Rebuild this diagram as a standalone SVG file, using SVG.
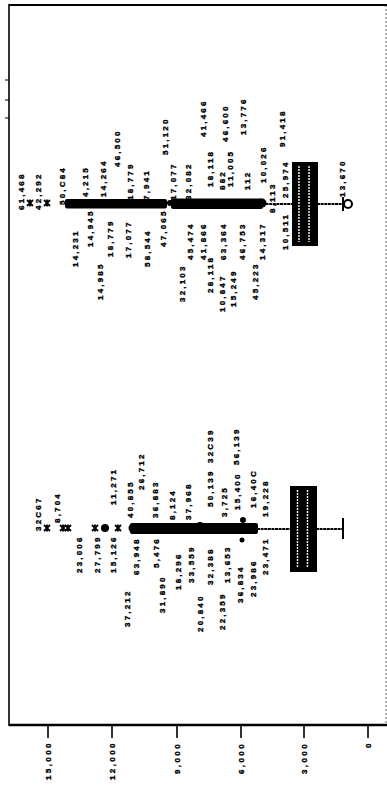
<svg xmlns="http://www.w3.org/2000/svg" width="387" height="787" viewBox="0 0 387 787">
<style>
.t{font-family:"Liberation Sans",Arial,sans-serif;font-weight:bold;font-size:8px;letter-spacing:2.2px;fill:#000;stroke:#000;stroke-width:0.35}
.ax{font-family:"Liberation Sans",Arial,sans-serif;font-weight:bold;font-size:8px;letter-spacing:2.4px;fill:#000;stroke:#000;stroke-width:0.35}
.frame{stroke:#000;fill:none}
.wh{stroke:#000;stroke-width:2;fill:none;stroke-dasharray:3 0.6}
.dense{fill:#000}
.box{fill:#000;stroke:#000;stroke-width:2}
.stripe{stroke:#fff;stroke-width:1.4;stroke-dasharray:2 1}
.mk{fill:#000}
</style>
<defs>
<path id="ast" d="M-3,-3 L3,3 M-3,3 L3,-3 M0,-3.5 V3.5" stroke="#000" stroke-width="1.8" fill="none"/>
</defs>
<rect width="387" height="787" fill="#fff"/>
<g id="frame">
<line class="frame" x1="9" y1="4" x2="9" y2="726" stroke-width="1.6"/>
<line class="frame" x1="9" y1="5" x2="387" y2="5" stroke-width="2"/>
<line class="frame" x1="9" y1="725" x2="387" y2="725" stroke-width="2.4"/>
<line class="frame" x1="386" y1="5" x2="386" y2="725" stroke-width="0.6" stroke="#bbb" stroke-dasharray="2 2"/>
<path class="frame" d="M5,80H9M5,100H9M5,118H9" stroke-width="1"/>
</g>
<g id="axis">
<path class="frame" stroke-width="1.6" d="M48,725V738M112,725V738M177,725V738M241,725V738M304,725V738M368,725V738"/>
<text class="ax" transform="translate(51,780) rotate(-90)">15,000</text>
<text class="ax" transform="translate(115,780) rotate(-90)">12,000</text>
<text class="ax" transform="translate(180,774) rotate(-90)">9,000</text>
<text class="ax" transform="translate(244,774) rotate(-90)">6,000</text>
<text class="ax" transform="translate(307,774) rotate(-90)">3,000</text>
<text class="ax" transform="translate(371,748) rotate(-90)">0</text>
</g>
<g id="connectors">
<line class="wh" x1="262" y1="204" x2="293" y2="204"/>
<line class="wh" x1="317" y1="204" x2="344" y2="204"/>
<line class="wh" x1="257" y1="529" x2="291" y2="529"/>
<line class="wh" x1="316" y1="529" x2="343" y2="529"/>
<line x1="343" y1="518" x2="343" y2="539" stroke="#000" stroke-width="2"/>
</g>
<g id="plot-upper">
<rect class="dense" x="65" y="199" width="102" height="9.5" rx="2"/>
<rect class="dense" x="171" y="198.5" width="92" height="10.5" rx="2"/>
<circle class="mk" cx="69" cy="203" r="4"/>
<circle class="mk" cx="170" cy="203" r="3"/>
<circle class="mk" cx="262" cy="203" r="4.5"/>
<use href="#ast" x="30" y="203"/>
<use href="#ast" x="47" y="203"/>
<rect class="box" x="293" y="163" width="24" height="82"/>
<line class="stripe" x1="299" y1="166" x2="299" y2="242"/>
<line class="stripe" x1="309" y1="166" x2="309" y2="242"/>
<line x1="343" y1="197" x2="343" y2="211" stroke="#000" stroke-width="2"/>
<circle cx="348" cy="204" r="4" fill="#fff" stroke="#000" stroke-width="2"/>
<text class="t" transform="translate(24,210) rotate(-90)">61,468</text>
<text class="t" transform="translate(41,210) rotate(-90)">42,292</text>
<text class="t" transform="translate(65,205) rotate(-90)">50,C84</text>
<text class="t" transform="translate(88,197) rotate(-90)">4,215</text>
<text class="t" transform="translate(106,197) rotate(-90)">14,264</text>
<text class="t" transform="translate(120,167) rotate(-90)">46,500</text>
<text class="t" transform="translate(133,200) rotate(-90)">18,779</text>
<text class="t" transform="translate(149,200) rotate(-90)">7,941</text>
<text class="t" transform="translate(168,155) rotate(-90)">51,120</text>
<text class="t" transform="translate(176,200) rotate(-90)">17,077</text>
<text class="t" transform="translate(191,200) rotate(-90)">32,082</text>
<text class="t" transform="translate(206,137) rotate(-90)">41,466</text>
<text class="t" transform="translate(213,187) rotate(-90)">18,118</text>
<text class="t" transform="translate(225,190) rotate(-90)">882</text>
<text class="t" transform="translate(228,142) rotate(-90)">46,600</text>
<text class="t" transform="translate(233,187) rotate(-90)">11,005</text>
<text class="t" transform="translate(246,135) rotate(-90)">13,776</text>
<text class="t" transform="translate(250,190) rotate(-90)">112</text>
<text class="t" transform="translate(266,183) rotate(-90)">10,026</text>
<text class="t" transform="translate(275,213) rotate(-90)">8,113</text>
<text class="t" transform="translate(285,147) rotate(-90)">91,418</text>
<text class="t" transform="translate(288,198) rotate(-90)">25,974</text>
<text class="t" transform="translate(345,197) rotate(-90)">13,670</text>
<text class="t" transform="translate(78,267) rotate(-90)">14,231</text>
<text class="t" transform="translate(93,247) rotate(-90)">14,945</text>
<text class="t" transform="translate(103,300) rotate(-90)">14,985</text>
<text class="t" transform="translate(113,257) rotate(-90)">18,779</text>
<text class="t" transform="translate(131,258) rotate(-90)">17,077</text>
<text class="t" transform="translate(150,267) rotate(-90)">58,544</text>
<text class="t" transform="translate(166,247) rotate(-90)">47,065</text>
<text class="t" transform="translate(185,302) rotate(-90)">32,103</text>
<text class="t" transform="translate(193,260) rotate(-90)">45,474</text>
<text class="t" transform="translate(206,260) rotate(-90)">41,866</text>
<text class="t" transform="translate(213,293) rotate(-90)">28,118</text>
<text class="t" transform="translate(225,312) rotate(-90)">10,847</text>
<text class="t" transform="translate(226,260) rotate(-90)">63,364</text>
<text class="t" transform="translate(236,307) rotate(-90)">15,249</text>
<text class="t" transform="translate(245,260) rotate(-90)">46,753</text>
<text class="t" transform="translate(258,300) rotate(-90)">45,223</text>
<text class="t" transform="translate(265,260) rotate(-90)">14,317</text>
<text class="t" transform="translate(288,250) rotate(-90)">10,511</text>
</g>
<g id="plot-lower">
<rect class="dense" x="130" y="523" width="128" height="11" rx="2"/>
<circle class="mk" cx="133" cy="528" r="4.5"/>
<circle class="mk" cx="200" cy="526" r="4"/>
<circle class="mk" cx="243" cy="520" r="3"/>
<circle class="mk" cx="242" cy="540" r="2.5"/>
<use href="#ast" x="47" y="528"/>
<use href="#ast" x="63" y="528"/>
<use href="#ast" x="68" y="528"/>
<use href="#ast" x="95" y="528"/>
<circle class="mk" cx="105" cy="528" r="4"/>
<use href="#ast" x="118" y="528"/>
<rect class="box" x="291" y="487" width="25" height="84"/>
<line class="stripe" x1="297.5" y1="490" x2="297.5" y2="568"/>
<line class="stripe" x1="307.5" y1="490" x2="307.5" y2="568"/>
<text class="t" transform="translate(41,531) rotate(-90)">32C67</text>
<text class="t" transform="translate(60,523) rotate(-90)">8,704</text>
<text class="t" transform="translate(116,505) rotate(-90)">11,271</text>
<text class="t" transform="translate(133,518) rotate(-90)">40,855</text>
<text class="t" transform="translate(144,490) rotate(-90)">26,712</text>
<text class="t" transform="translate(158,518) rotate(-90)">36,883</text>
<text class="t" transform="translate(175,520) rotate(-90)">8,124</text>
<text class="t" transform="translate(191,520) rotate(-90)">37,968</text>
<text class="t" transform="translate(213,463) rotate(-90)">32C39</text>
<text class="t" transform="translate(213,507) rotate(-90)">50,139</text>
<text class="t" transform="translate(227,517) rotate(-90)">3,725</text>
<text class="t" transform="translate(239,465) rotate(-90)">56,139</text>
<text class="t" transform="translate(240,510) rotate(-90)">15,400</text>
<text class="t" transform="translate(256,508) rotate(-90)">16,40C</text>
<text class="t" transform="translate(268,517) rotate(-90)">19,228</text>
<text class="t" transform="translate(82,573) rotate(-90)">23,006</text>
<text class="t" transform="translate(100,573) rotate(-90)">27,799</text>
<text class="t" transform="translate(116,573) rotate(-90)">15,126</text>
<text class="t" transform="translate(130,627) rotate(-90)">37,212</text>
<text class="t" transform="translate(139,575) rotate(-90)">63,948</text>
<text class="t" transform="translate(159,568) rotate(-90)">5,476</text>
<text class="t" transform="translate(165,613) rotate(-90)">31,890</text>
<text class="t" transform="translate(181,590) rotate(-90)">18,296</text>
<text class="t" transform="translate(194,583) rotate(-90)">33,559</text>
<text class="t" transform="translate(203,632) rotate(-90)">20,840</text>
<text class="t" transform="translate(213,585) rotate(-90)">32,388</text>
<text class="t" transform="translate(225,630) rotate(-90)">22,359</text>
<text class="t" transform="translate(230,583) rotate(-90)">13,653</text>
<text class="t" transform="translate(243,603) rotate(-90)">36,834</text>
<text class="t" transform="translate(256,597) rotate(-90)">23,986</text>
<text class="t" transform="translate(268,575) rotate(-90)">23,471</text>
</g>
</svg>
